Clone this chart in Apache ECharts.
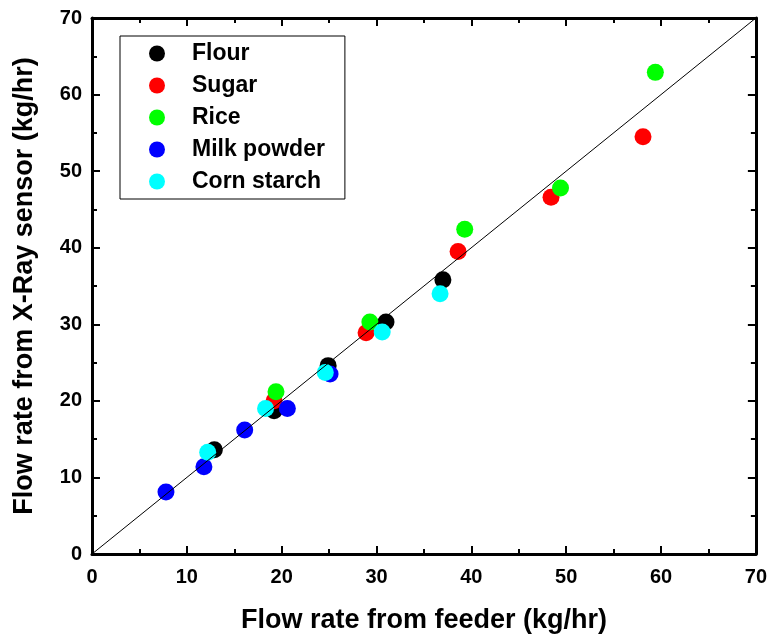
<!DOCTYPE html>
<html>
<head>
<meta charset="utf-8">
<script src="https://cdn.jsdelivr.net/npm/echarts@6/dist/echarts.min.js"></script>
<style>
  html, body { margin: 0; padding: 0; background: #fff; }
  #main { width: 770px; height: 639px; }
</style>
</head>
<body>
<div id="main"></div>
<script>
// [feeder, x-ray sensor] pairs, kg/hr
var flour = [[12.9, 13.6], [19.2, 18.7], [24.9, 24.6], [31.0, 30.3], [37.0, 35.8]];
var sugar = [[19.2, 20.0], [28.9, 28.9], [38.6, 39.5], [48.4, 46.6], [58.1, 54.5]];
var rice = [[19.4, 21.2], [29.3, 30.3], [39.3, 42.4], [49.4, 47.8], [59.4, 62.9]];
var milkPowder = [[7.8, 8.1], [11.8, 11.4], [16.1, 16.2], [20.6, 19.0], [25.1, 23.5]];
var cornStarch = [[12.2, 13.3], [18.3, 19.0], [24.6, 23.7], [30.6, 29.0], [36.7, 34.0]];
var diagonal = [[0, 0], [70, 70]];

var names = ["Flour", "Sugar", "Rice", "Milk powder", "Corn starch"];
var colors = ["#000000", "#ff0000", "#00ff00", "#0000ff", "#00ffff"];
var sets = [flour, sugar, rice, milkPowder, cornStarch];

var font = "'Liberation Sans', Arial, sans-serif";
var chart = echarts.init(document.getElementById("main"));

function axisBase(show, margin) {
  return {
    min: 0,
    max: 70,
    interval: 10,
    axisLine: { onZero: false, lineStyle: { color: "#000", width: 3 } },
    axisTick: { inside: true, length: 8, lineStyle: { color: "#000", width: 2 } },
    minorTick: { show: true, splitNumber: 2, length: 5, lineStyle: { color: "#000", width: 2 } },
    splitLine: { show: false },
    axisLabel: {
      show: show,
      color: "#000",
      fontSize: 20,
      fontWeight: "bold",
      fontFamily: font,
      margin: margin || 10
    }
  };
}

var series = sets.map(function (d, i) {
  return {
    name: names[i],
    type: "scatter",
    data: d,
    symbol: "circle",
    symbolSize: 17,
    itemStyle: { color: colors[i], opacity: 1 },
    z: 2 + i
  };
});
series.push({
  type: "line",
  data: diagonal,
  symbol: "none",
  lineStyle: { color: "#000", width: 1 },
  z: 10,
  silent: true
});

var option = {
  animation: false,
  backgroundColor: "#fff",
  grid: { left: 92, right: 10, top: 18, bottom: 84 },
  legend: {
    orient: "vertical",
    left: 120,
    top: 36,
    data: names,
    icon: "circle",
    itemWidth: 16,
    itemHeight: 16,
    itemGap: 9,
    padding: [6, 20, 6, 29],
    borderColor: "#000",
    borderWidth: 1,
    textStyle: {
      color: "#000",
      fontSize: 23,
      fontWeight: "bold",
      fontFamily: font,
      padding: [0, 0, 0, 22]
    }
  },
  xAxis: [
    Object.assign(axisBase(true, 13), {
      type: "value",
      position: "bottom",
      name: "Flow rate from feeder (kg/hr)",
      nameLocation: "middle",
      nameGap: 53,
      nameTextStyle: { color: "#000", fontSize: 27, fontWeight: "bold", fontFamily: font }
    }),
    Object.assign(axisBase(false), { type: "value", position: "top" })
  ],
  yAxis: [
    Object.assign(axisBase(true), {
      type: "value",
      position: "left",
      name: "Flow rate from X-Ray sensor (kg/hr)",
      nameLocation: "middle",
      nameGap: 54,
      nameTextStyle: { color: "#000", fontSize: 27, fontWeight: "bold", fontFamily: font }
    }),
    Object.assign(axisBase(false), { type: "value", position: "right" })
  ],
  series: series
};

chart.setOption(option);
</script>
</body>
</html>
